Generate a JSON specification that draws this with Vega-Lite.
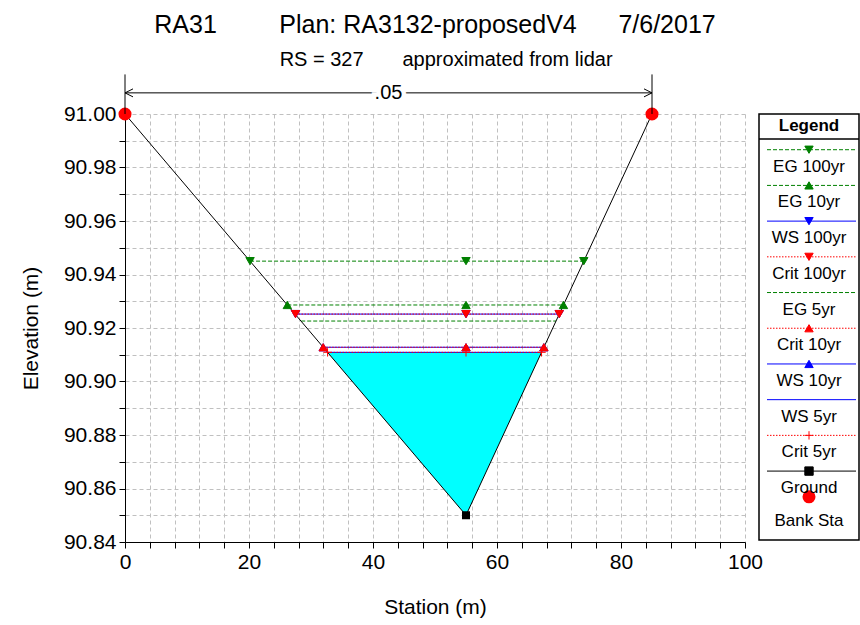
{
  "$schema": "https://vega.github.io/schema/vega-lite/v6.json",
  "background": "white",
  "padding": {"left": 20, "top": 12, "right": 0, "bottom": 4},
  "spacing": 14,
  "bounds": "flush",
  "config": {
    "view": {"stroke": null},
    "font": "Liberation Sans",
    "axis": {
      "domainColor": "black",
      "tickColor": "black",
      "labelColor": "black",
      "titleColor": "black",
      "labelFont": "Liberation Sans",
      "titleFont": "Liberation Sans",
      "labelFontSize": 21,
      "titleFontSize": 21,
      "titleFontWeight": "normal",
      "tickSize": 6,
      "labelPadding": 3,
      "tickCount": 200,
      "gridColor": "#c0c0c0",
      "gridDash": [4, 3],
      "gridWidth": 1,
      "labelOverlap": false,
      "labelFlush": false
    }
  },
  "datasets": {
    "ground": [
      {"station": 0, "elev": 91.0, "bank": "yes"},
      {"station": 55, "elev": 90.85, "bank": "no"},
      {"station": 85, "elev": 91.0, "bank": "yes"}
    ],
    "fill": [
      {"station": 32.63, "bottom": 90.911, "top": 90.911},
      {"station": 55, "bottom": 90.85, "top": 90.911},
      {"station": 67.2, "bottom": 90.911, "top": 90.911}
    ],
    "ws": [
      {"series": "WS 100yr", "station": 27.5, "elev": 90.9252},
      {"series": "WS 100yr", "station": 55, "elev": 90.9252},
      {"series": "WS 100yr", "station": 70.04, "elev": 90.9252},
      {"series": "WS 10yr", "station": 31.97, "elev": 90.9128},
      {"series": "WS 10yr", "station": 55, "elev": 90.9128},
      {"series": "WS 10yr", "station": 67.56, "elev": 90.9128},
      {"series": "WS 5yr", "station": 32.67, "elev": 90.9109},
      {"series": "WS 5yr", "station": 55, "elev": 90.9109},
      {"series": "WS 5yr", "station": 67.18, "elev": 90.9109},
      {"series": "Crit 100yr", "station": 27.5, "elev": 90.9252},
      {"series": "Crit 100yr", "station": 55, "elev": 90.9252},
      {"series": "Crit 100yr", "station": 70.04, "elev": 90.9252},
      {"series": "Crit 10yr", "station": 31.97, "elev": 90.9128},
      {"series": "Crit 10yr", "station": 55, "elev": 90.9128},
      {"series": "Crit 10yr", "station": 67.56, "elev": 90.9128},
      {"series": "Crit 5yr", "station": 32.67, "elev": 90.9109},
      {"series": "Crit 5yr", "station": 55, "elev": 90.9109},
      {"series": "Crit 5yr", "station": 67.18, "elev": 90.9109},
      {"series": "EG 100yr", "station": 20.17, "elev": 90.945},
      {"series": "EG 100yr", "station": 55, "elev": 90.945},
      {"series": "EG 100yr", "station": 74.0, "elev": 90.945},
      {"series": "EG 10yr", "station": 26.18, "elev": 90.9286},
      {"series": "EG 10yr", "station": 55, "elev": 90.9286},
      {"series": "EG 10yr", "station": 70.72, "elev": 90.9286},
      {"series": "EG 5yr", "station": 28.42, "elev": 90.9226},
      {"series": "EG 5yr", "station": 55, "elev": 90.9226},
      {"series": "EG 5yr", "station": 69.52, "elev": 90.9226}
    ],
    "annot": [{"left": 0, "right": 85, "n": ".05"}],
    "header": [{"text": "Legend"}],
    "legend": [
      {"series": "EG 100yr", "order": 1},
      {"series": "EG 10yr", "order": 2},
      {"series": "WS 100yr", "order": 3},
      {"series": "Crit 100yr", "order": 4},
      {"series": "EG 5yr", "order": 5},
      {"series": "Crit 10yr", "order": 6},
      {"series": "WS 10yr", "order": 7},
      {"series": "WS 5yr", "order": 8},
      {"series": "Crit 5yr", "order": 9},
      {"series": "Ground", "order": 10},
      {"series": "Bank Sta", "order": 11}
    ]
  },
  "hconcat": [
    {
      "width": 620,
      "height": 428,
      "title": {
        "text": "RA31\u00a0\u00a0\u00a0\u00a0\u00a0\u00a0\u00a0\u00a0\u00a0Plan: RA3132-proposedV4\u00a0\u00a0\u00a0\u00a0\u00a0\u00a07/6/2017",
        "subtitle": "\u200b\u00a0\u00a0\u00a0\u00a0RS = 327\u00a0\u00a0\u00a0\u00a0\u00a0\u00a0\u00a0approximated from lidar",
        "font": "Liberation Sans",
        "subtitleFont": "Liberation Sans",
        "fontSize": 25,
        "subtitleFontSize": 20,
        "fontWeight": "normal",
        "color": "black",
        "subtitleColor": "black",
        "anchor": "middle",
        "offset": 4,
        "subtitlePadding": 12
      },
      "layer": [
        {
          "data": {"name": "fill"},
          "mark": {"type": "area", "color": "#00ffff", "opacity": 1},
          "encoding": {
            "x": {
              "field": "station",
              "type": "quantitative",
              "scale": {"domain": [0, 100], "nice": false, "zero": false},
              "axis": {
                "title": "Station (m)",
                "values": [0, 4, 8, 12, 16, 20, 24, 28, 32, 36, 40, 44, 48, 52, 56, 60, 64, 68, 72, 76, 80, 84, 88, 92, 96, 100],
                "tickCount": 200,
                "labelExpr": "datum.value % 20 === 0 ? format(datum.value, 'd') : ''",
                "grid": true,
                "titlePadding": 24
              }
            },
            "y": {
              "field": "bottom",
              "type": "quantitative",
              "scale": {"domain": [90.84, 91.0], "nice": false, "zero": false},
              "axis": {
                "title": "Elevation (m)",
                "values": [90.84, 90.85, 90.86, 90.87, 90.88, 90.89, 90.9, 90.91, 90.92, 90.93, 90.94, 90.95, 90.96, 90.97, 90.98, 90.99, 91.0],
                "tickCount": 200,
                "labelExpr": "round(datum.value * 100) % 2 === 0 ? format(datum.value, '.2f') : ''",
                "grid": true,
                "titlePadding": 22
              }
            },
            "y2": {"field": "top"}
          }
        },
        {
          "data": {"name": "ws"},
          "transform": [{"filter": "indexof(datum.series, 'WS') === 0"}],
          "mark": {"type": "line", "strokeWidth": 1},
          "encoding": {
            "x": {"field": "station", "type": "quantitative"},
            "y": {"field": "elev", "type": "quantitative"},
            "detail": {"field": "series"},
            "color": {"value": "#0000ff"}
          }
        },
        {
          "data": {"name": "ws"},
          "transform": [{"filter": "indexof(datum.series, 'Crit') === 0"}],
          "mark": {"type": "line", "strokeWidth": 1, "strokeDash": [1.5, 1.5]},
          "encoding": {
            "x": {"field": "station", "type": "quantitative"},
            "y": {"field": "elev", "type": "quantitative"},
            "detail": {"field": "series"},
            "color": {"value": "#ff0000"}
          }
        },
        {
          "data": {"name": "ws"},
          "transform": [{"filter": "indexof(datum.series, 'EG') === 0"}],
          "mark": {"type": "line", "strokeWidth": 1, "strokeDash": [4, 2]},
          "encoding": {
            "x": {"field": "station", "type": "quantitative"},
            "y": {"field": "elev", "type": "quantitative"},
            "detail": {"field": "series"},
            "color": {"value": "#008000"}
          }
        },
        {
          "data": {"name": "ground"},
          "mark": {"type": "line", "color": "black", "strokeWidth": 1},
          "encoding": {
            "x": {"field": "station", "type": "quantitative"},
            "y": {"field": "elev", "type": "quantitative"}
          }
        },
        {
          "data": {"name": "ws"},
          "transform": [{"filter": "datum.series !== 'EG 5yr' && datum.series !== 'WS 5yr'"}],
          "mark": {"type": "point", "filled": true, "opacity": 1, "size": 70, "strokeWidth": 1},
          "encoding": {
            "x": {"field": "station", "type": "quantitative"},
            "y": {"field": "elev", "type": "quantitative"},
            "shape": {
              "field": "series",
              "legend": null,
              "scale": {
                "domain": ["EG 100yr", "EG 10yr", "WS 100yr", "Crit 100yr", "EG 5yr", "Crit 10yr", "WS 10yr", "WS 5yr", "Crit 5yr", "Ground", "Bank Sta"],
                "range": ["triangle-down", "triangle-up", "triangle-down", "triangle-down", "circle", "triangle-up", "triangle-up", "circle", "M-1,0L1,0M0,-1L0,1", "square", "circle"]
              }
            },
            "color": {
              "field": "series",
              "legend": null,
              "scale": {
                "domain": ["EG 100yr", "EG 10yr", "WS 100yr", "Crit 100yr", "EG 5yr", "Crit 10yr", "WS 10yr", "WS 5yr", "Crit 5yr", "Ground", "Bank Sta"],
                "range": ["#008000", "#008000", "#0000ff", "#ff0000", "#008000", "#ff0000", "#0000ff", "#0000ff", "#ff0000", "#000000", "#ff0000"]
              }
            },
            "stroke": {
              "field": "series",
              "legend": null,
              "scale": {
                "domain": ["EG 100yr", "EG 10yr", "WS 100yr", "Crit 100yr", "EG 5yr", "Crit 10yr", "WS 10yr", "WS 5yr", "Crit 5yr", "Ground", "Bank Sta"],
                "range": ["#008000", "#008000", "#0000ff", "#ff0000", "#008000", "#ff0000", "#0000ff", "#0000ff", "#ff0000", "#000000", "#ff0000"]
              }
            }
          }
        },
        {
          "data": {"name": "ground"},
          "mark": {"type": "point", "shape": "square", "filled": true, "color": "black", "opacity": 1, "size": 64},
          "encoding": {
            "x": {"field": "station", "type": "quantitative"},
            "y": {"field": "elev", "type": "quantitative"}
          }
        },
        {
          "data": {"name": "ground"},
          "transform": [{"filter": "datum.bank === 'yes'"}],
          "mark": {"type": "point", "shape": "circle", "filled": true, "color": "#ff0000", "opacity": 1, "size": 170},
          "encoding": {
            "x": {"field": "station", "type": "quantitative"},
            "y": {"field": "elev", "type": "quantitative"}
          }
        },
        {
          "data": {"name": "annot"},
          "mark": {"type": "rule", "color": "black", "strokeWidth": 1},
          "encoding": {
            "x": {"field": "left", "type": "quantitative"},
            "y": {"datum": 91.0},
            "y2": {"datum": 91.0148}
          }
        },
        {
          "data": {"name": "annot"},
          "mark": {"type": "rule", "color": "black", "strokeWidth": 1},
          "encoding": {
            "x": {"field": "right", "type": "quantitative"},
            "y": {"datum": 91.0},
            "y2": {"datum": 91.0148}
          }
        },
        {
          "data": {"name": "annot"},
          "mark": {"type": "rule", "color": "black", "strokeWidth": 1},
          "encoding": {
            "x": {"field": "left", "type": "quantitative"},
            "x2": {"field": "right"},
            "y": {"datum": 91.0079}
          }
        },
        {
          "data": {"name": "annot"},
          "mark": {"type": "point", "shape": "M2,-1L0,0L2,1", "filled": false, "color": "black", "strokeWidth": 1, "size": 64, "opacity": 1},
          "encoding": {
            "x": {"field": "left", "type": "quantitative"},
            "y": {"datum": 91.0079}
          }
        },
        {
          "data": {"name": "annot"},
          "mark": {"type": "point", "shape": "M-2,-1L0,0L-2,1", "filled": false, "color": "black", "strokeWidth": 1, "size": 64, "opacity": 1},
          "encoding": {
            "x": {"field": "right", "type": "quantitative"},
            "y": {"datum": 91.0079}
          }
        },
        {
          "data": {"name": "annot"},
          "transform": [{"calculate": "(datum.left + datum.right) / 2", "as": "mid"}],
          "mark": {"type": "text", "fontSize": 20, "font": "Liberation Sans", "stroke": "white", "strokeWidth": 9, "color": "white", "baseline": "middle", "align": "center"},
          "encoding": {
            "x": {"field": "mid", "type": "quantitative"},
            "y": {"datum": 91.0079},
            "text": {"field": "n"}
          }
        },
        {
          "data": {"name": "annot"},
          "transform": [{"calculate": "(datum.left + datum.right) / 2", "as": "mid"}],
          "mark": {"type": "text", "fontSize": 20, "font": "Liberation Sans", "color": "black", "baseline": "middle", "align": "center"},
          "encoding": {
            "x": {"field": "mid", "type": "quantitative"},
            "y": {"datum": 91.0079},
            "text": {"field": "n"}
          }
        }
      ]
    },
    {
      "width": 100,
      "height": 426,
      "view": {"stroke": "black", "strokeWidth": 1.5},
      "layer": [
        {
          "data": {"name": "header"},
          "mark": {"type": "text", "fontSize": 17, "fontWeight": "bold", "font": "Liberation Sans", "color": "black", "baseline": "middle", "align": "center"},
          "encoding": {
            "x": {"datum": 0.5, "type": "quantitative", "scale": {"domain": [0, 1], "nice": false, "zero": false}, "axis": null},
            "y": {"datum": 0.34, "type": "quantitative", "scale": {"domain": [0, 11.93], "reverse": true, "nice": false, "zero": false}, "axis": null},
            "text": {"field": "text"}
          }
        },
        {
          "data": {"name": "header"},
          "mark": {"type": "rule", "color": "black", "strokeWidth": 1.5},
          "encoding": {
            "x": {"datum": 0, "type": "quantitative"},
            "x2": {"datum": 1},
            "y": {"datum": 0.7, "type": "quantitative"}
          }
        },
        {
          "data": {"name": "legend"},
          "transform": [{"filter": "datum.series !== 'Bank Sta'"}],
          "mark": {"type": "rule", "strokeWidth": 1},
          "encoding": {
            "x": {"datum": 0.08, "type": "quantitative"},
            "x2": {"datum": 0.97},
            "y": {"field": "order", "type": "quantitative"},
            "color": {
              "field": "series",
              "legend": null,
              "scale": {
                "domain": ["EG 100yr", "EG 10yr", "WS 100yr", "Crit 100yr", "EG 5yr", "Crit 10yr", "WS 10yr", "WS 5yr", "Crit 5yr", "Ground", "Bank Sta"],
                "range": ["#008000", "#008000", "#0000ff", "#ff0000", "#008000", "#ff0000", "#0000ff", "#0000ff", "#ff0000", "#000000", "#ff0000"]
              }
            },
            "strokeDash": {
              "field": "series",
              "legend": null,
              "scale": {
                "domain": ["EG 100yr", "EG 10yr", "WS 100yr", "Crit 100yr", "EG 5yr", "Crit 10yr", "WS 10yr", "WS 5yr", "Crit 5yr", "Ground", "Bank Sta"],
                "range": [[4, 2], [4, 2], [1, 0], [1.5, 1.5], [4, 2], [1.5, 1.5], [1, 0], [1, 0], [1.5, 1.5], [1, 0], [1, 0]]
              }
            }
          }
        },
        {
          "data": {"name": "legend"},
          "transform": [{"filter": "datum.series !== 'EG 5yr' && datum.series !== 'WS 5yr' && datum.series !== 'Bank Sta'"}],
          "mark": {"type": "point", "filled": true, "opacity": 1, "size": 70, "strokeWidth": 1},
          "encoding": {
            "x": {"datum": 0.5, "type": "quantitative"},
            "y": {"field": "order", "type": "quantitative"},
            "shape": {
              "field": "series",
              "legend": null,
              "scale": {
                "domain": ["EG 100yr", "EG 10yr", "WS 100yr", "Crit 100yr", "EG 5yr", "Crit 10yr", "WS 10yr", "WS 5yr", "Crit 5yr", "Ground", "Bank Sta"],
                "range": ["triangle-down", "triangle-up", "triangle-down", "triangle-down", "circle", "triangle-up", "triangle-up", "circle", "M-1,0L1,0M0,-1L0,1", "square", "circle"]
              }
            },
            "color": {
              "field": "series",
              "legend": null,
              "scale": {
                "domain": ["EG 100yr", "EG 10yr", "WS 100yr", "Crit 100yr", "EG 5yr", "Crit 10yr", "WS 10yr", "WS 5yr", "Crit 5yr", "Ground", "Bank Sta"],
                "range": ["#008000", "#008000", "#0000ff", "#ff0000", "#008000", "#ff0000", "#0000ff", "#0000ff", "#ff0000", "#000000", "#ff0000"]
              }
            },
            "stroke": {
              "field": "series",
              "legend": null,
              "scale": {
                "domain": ["EG 100yr", "EG 10yr", "WS 100yr", "Crit 100yr", "EG 5yr", "Crit 10yr", "WS 10yr", "WS 5yr", "Crit 5yr", "Ground", "Bank Sta"],
                "range": ["#008000", "#008000", "#0000ff", "#ff0000", "#008000", "#ff0000", "#0000ff", "#0000ff", "#ff0000", "#000000", "#ff0000"]
              }
            }
          }
        },
        {
          "data": {"name": "legend"},
          "transform": [{"filter": "datum.series === 'Bank Sta'"}],
          "mark": {"type": "point", "shape": "circle", "filled": true, "color": "#ff0000", "opacity": 1, "size": 170, "yOffset": -10},
          "encoding": {
            "x": {"datum": 0.5, "type": "quantitative"},
            "y": {"field": "order", "type": "quantitative"}
          }
        },
        {
          "data": {"name": "legend"},
          "transform": [{"filter": "datum.series !== 'Bank Sta'"}],
          "mark": {"type": "text", "fontSize": 17, "font": "Liberation Sans", "color": "black", "baseline": "middle", "align": "center", "dy": 17},
          "encoding": {
            "x": {"datum": 0.5, "type": "quantitative"},
            "y": {"field": "order", "type": "quantitative"},
            "text": {"field": "series"}
          }
        },
        {
          "data": {"name": "legend"},
          "transform": [{"filter": "datum.series === 'Bank Sta'"}],
          "mark": {"type": "text", "fontSize": 17, "font": "Liberation Sans", "color": "black", "baseline": "middle", "align": "center", "dy": 14},
          "encoding": {
            "x": {"datum": 0.5, "type": "quantitative"},
            "y": {"field": "order", "type": "quantitative"},
            "text": {"field": "series"}
          }
        }
      ]
    }
  ]
}
